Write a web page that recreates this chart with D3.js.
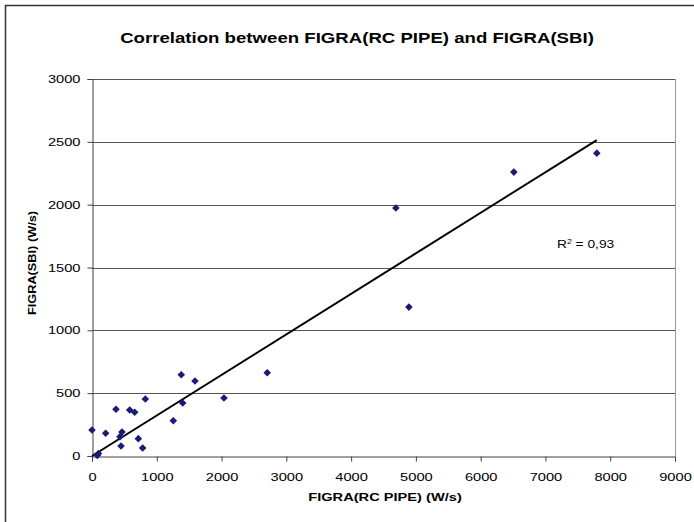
<!DOCTYPE html>
<html>
<head>
<meta charset="utf-8">
<script src="https://cdn.jsdelivr.net/npm/d3@7"></script>
<style>
body { margin: 0; background: #fff; }
text { font-family: "Liberation Sans", Arial, sans-serif; fill: #000; }
</style>
</head>
<body>
<svg id="chart" width="694" height="522"></svg>
<script>
// measured points, FIGRA(RC PIPE) vs FIGRA(SBI)
var pipeVals = [0, 82, 100, 211, 370, 463, 432, 448, 582, 659, 715, 782, 823, 1255, 1378, 1400, 1590, 2037, 2705, 4691, 4892, 6512, 7793];
var sbiVals  = [207, 5, 20, 181, 372, 191, 154, 80, 366, 348, 138, 64, 453, 281, 647, 422, 597, 462, 663, 1973, 1185, 2259, 2410];

var xTicks = [0, 1000, 2000, 3000, 4000, 5000, 6000, 7000, 8000, 9000];
var yTicks = [0, 500, 1000, 1500, 2000, 2500, 3000];

// trend line ends (linear fit)
var trendX = [0, 7793];
var trendY = [0, 2514];

var rsq = "0,93";

var svg = d3.select("#chart");

// text in the original is stretched sideways
var stretch = 1.33;

var pLeft = 92, pRight = 675, pTop = 79, pBottom = 456;

var x = d3.scaleLinear().domain([0, 9000]).range([pLeft, pRight]);
var y = d3.scaleLinear().domain([0, 3000]).range([pBottom, pTop]);

// outer frame
svg.append("rect")
    .attr("x", 5.5).attr("y", 5.5)
    .attr("width", 720).attr("height", 540)
    .attr("fill", "none")
    .attr("stroke", "#333")
    .attr("stroke-width", 1.5);

// gridlines
svg.append("g").selectAll("line")
    .data(yTicks.slice(1))
    .enter()
    .append("line")
    .attr("x1", pLeft).attr("x2", pRight)
    .attr("y1", function(d) { return Math.round(y(d)) + 0.5; })
    .attr("y2", function(d) { return Math.round(y(d)) + 0.5; })
    .attr("stroke", "#555");

// right border of plot
svg.append("line")
    .attr("x1", pRight + 0.5).attr("x2", pRight + 0.5)
    .attr("y1", pTop).attr("y2", pBottom)
    .attr("stroke", "#9a9a9a");

var xAxis = svg.append("g")
    .attr("transform", "translate(0," + (pBottom + 0.5) + ")")
    .call(d3.axisBottom(x).tickValues(xTicks).tickSize(5).tickPadding(12).tickFormat(d3.format("d")));

var yAxis = svg.append("g")
    .attr("transform", "translate(" + (pLeft + 0.5) + ",0)")
    .call(d3.axisLeft(y).tickValues(yTicks).tickSize(5).tickPadding(7).tickFormat(d3.format("d")));

[xAxis, yAxis].forEach(function(a) {
    a.select(".domain").attr("stroke", "#404040");
    a.selectAll(".tick line").attr("stroke", "#404040");
    a.selectAll("text")
        .style("font-family", "'Liberation Sans', Arial, sans-serif")
        .style("font-size", "11px")
        .attr("fill", "#000");
});
xAxis.selectAll("text").attr("transform", "scale(" + stretch + ",1)");
yAxis.selectAll("text")
    .attr("x", -12 / stretch)
    .attr("transform", "scale(" + stretch + ",1)");

// trend line
svg.append("line")
    .attr("x1", x(trendX[0])).attr("y1", y(trendY[0]))
    .attr("x2", x(trendX[1])).attr("y2", y(trendY[1]))
    .attr("stroke", "#000")
    .attr("stroke-width", 2);

// points
svg.append("g").selectAll("path")
    .data(pipeVals)
    .enter()
    .append("path")
    .attr("d", function(d, i) {
        var cx = x(d), cy = y(sbiVals[i]), r = 3.8;
        return "M" + cx + "," + (cy - r) + "L" + (cx + r) + "," + cy + "L" + cx + "," + (cy + r) + "L" + (cx - r) + "," + cy + "Z";
    })
    .attr("fill", "#1a1a78");

// title
svg.append("text")
    .attr("transform", "translate(357,43) scale(" + stretch + ",1)")
    .attr("text-anchor", "middle")
    .style("font-size", "14px")
    .style("font-weight", "bold")
    .text("Correlation between FIGRA(RC PIPE) and FIGRA(SBI)");

// axis titles
svg.append("text")
    .attr("transform", "translate(385,501) scale(" + stretch + ",1)")
    .attr("text-anchor", "middle")
    .style("font-size", "11px")
    .style("font-weight", "bold")
    .text("FIGRA(RC PIPE) (W/s)");

svg.append("text")
    .attr("transform", "translate(36,263) rotate(-90) scale(1.16,1)")
    .attr("text-anchor", "middle")
    .style("font-size", "11px")
    .style("font-weight", "bold")
    .text("FIGRA(SBI) (W/s)");

// R^2
var rt = svg.append("text")
    .attr("transform", "translate(557,248) scale(1.25,1)")
    .style("font-size", "11px");
rt.append("tspan").text("R");
rt.append("tspan").attr("dy", -4).style("font-size", "7px").text("2");
rt.append("tspan").attr("dy", 4).text(" = " + rsq);
</script>
</body>
</html>
